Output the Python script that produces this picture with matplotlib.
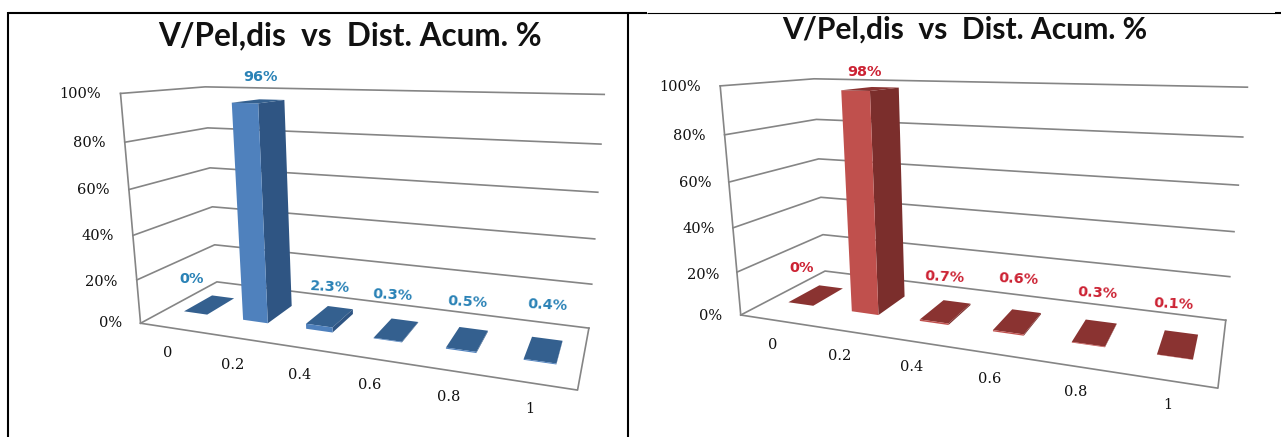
import numpy as np
import matplotlib
matplotlib.use("Agg")
import matplotlib.pyplot as plt
from matplotlib.lines import Line2D
from mpl_toolkits.mplot3d import Axes3D  # noqa: F401

FIG_W, FIG_H = 1281, 437
PANEL = 640

categories = ["0", "0.2", "0.4", "0.6", "0.8", "1"]
y_ticks = [0, 20, 40, 60, 80, 100]
title = "V/Pel,dis  vs  Dist. Acum. %"

blue_values = [0, 96, 2.3, 0.3, 0.5, 0.4]
blue_labels = ["0%", "96%", "2.3%", "0.3%", "0.5%", "0.4%"]
red_values = [0, 98, 0.7, 0.6, 0.3, 0.1]
red_labels = ["0%", "98%", "0.7%", "0.6%", "0.3%", "0.1%"]

# where the box corners land on the canvas, one entry per y tick
blue_left = [(140, 322), (137, 280), (133, 236), (129, 190), (125, 143), (120, 93)]
blue_back = [(217, 282), (214, 245), (212, 207), (211, 168), (208, 128), (205, 86)]
blue_right = [(588, 328), (592, 284), (595, 239), (599, 193), (602, 144), (602, 94)]
blue_front_right = (578, 390)
red_left = [(742, 315), (737, 272), (733, 228), (729, 182), (724, 135), (719, 86)]
red_back = [(824, 271), (822, 235), (821, 197), (819, 159), (817, 119), (815, 79)]
red_right = [(1226, 320), (1230, 277), (1234, 232), (1238, 185), (1243, 137), (1247, 87)]
red_front_right = (1218, 388)

# text anchors, canvas pixels
blue_tick_xy = [(168, 353), (233, 365), (300, 375), (370, 385), (449, 397), (530, 409)]
blue_label_xy = [(192, 279), (261, 77), (330, 287), (393, 295), (468, 302), (548, 305)]
blue_ylab_xy = [(122, 323), (117, 282), (114, 236), (109, 190), (105, 143), (101, 94)]
red_tick_xy = [(773, 345), (840, 356), (912, 367), (990, 379), (1076, 392), (1168, 405)]
red_label_xy = [(802, 268), (865, 72), (945, 277), (1019, 279), (1098, 293), (1174, 304)]
red_ylab_xy = [(722, 316), (719, 275), (715, 229), (711, 183), (706, 136), (701, 87)]
label_tilt = [0, 0, -3, -3, -3, -3]


def fit_camera(left, back, right, front_right):
    # solve the 3x4 camera for (category, depth, percent) -> canvas
    world, canvas = [], []
    for i, tick in enumerate(y_ticks):
        world += [(0, 0, tick), (0, 1, tick), (6, 1, tick)]
        canvas += [left[i], back[i], right[i]]
    world.append((6, 0, 0))
    canvas.append(front_right)

    rows, rhs = [], []
    for (x, y, z), (u, v) in zip(world, canvas):
        rows.append([x, y, z, 1, 0, 0, 0, 0, -u * x, -u * y, -u * z])
        rows.append([0, 0, 0, 0, x, y, z, 1, -v * x, -v * y, -v * z])
        rhs += [u, v]
    p = np.linalg.lstsq(np.array(rows, float), np.array(rhs, float), rcond=None)[0]

    # depth row grows with w, so mplot3d sorts far faces first
    return np.array([
        [p[0], p[1], p[2], p[3]],
        [p[4], p[5], p[6], p[7]],
        [p[8], p[9], p[10], 0.5],
        [p[8], p[9], p[10], 1.0],
    ])


def draw_chart(x0, values, labels, left, back, right, front_right, tick_xy, label_xy,
               ylab_xy, face, side, top, text_color, title_x, title_y, title_size):
    rect = [x0 / FIG_W, (FIG_H - PANEL) / FIG_H, PANEL / FIG_W, PANEL / FIG_H]
    ax = fig.add_axes(rect, projection="3d", computed_zorder=False)
    ax.patch.set_visible(False)
    ax.set_axis_off()
    # ortho switches off line clipping to the unit cube, the camera below is our own
    ax.set_proj_type("ortho")
    ax.viewLim.intervalx = (x0, x0 + PANEL)
    ax.viewLim.intervaly = (PANEL, 0)
    cam = fit_camera(left, back, right, front_right)
    ax.get_proj = lambda: cam

    grid = dict(color="#858585", lw=1.2, zorder=1)
    for tick in y_ticks:
        ax.plot([0, 0, 6], [0, 1, 1], [tick, tick, tick], **grid)
    ax.plot([0, 0], [0, 0], [0, 100], **grid)
    ax.plot([0, 6, 6], [0, 0, 1], [0, 0, 0], **grid)

    n = len(values)
    xs = np.arange(n) + 0.5 - 0.2
    clear = (0, 0, 0, 0)
    # bar3d face order: -z, +z, -y, +y, -x, +x
    colors = [clear, top, face, clear, clear, side] * n
    ax.bar3d(xs, [0.31] * n, [0] * n, 0.4, 0.38, values, color=colors, shade=False,
             edgecolor="none", zorder=3)

    for s, (px, py) in zip(categories, tick_xy):
        ax.text2D(px, py, s, ha="center", va="center", color="#111111",
                  family="DejaVu Serif", fontsize=10.5)
    for tick, (px, py) in zip(y_ticks, ylab_xy):
        ax.text2D(px, py, f"{tick}%", ha="right", va="center", color="#111111",
                  family="DejaVu Serif", fontsize=10.5)
    for s, (px, py), tilt in zip(labels, label_xy, label_tilt):
        ax.text2D(px, py, s, ha="center", va="center", color=text_color, rotation=tilt,
                  family="DejaVu Sans", weight="bold", fontsize=10.4)
    ax.text2D(title_x, title_y, title, ha="center", va="center", color="#111111",
              family="Lato", weight="bold", fontsize=title_size)


def rule(x1, y1, x2, y2, lw):
    fig.add_artist(Line2D([x1 / FIG_W, x2 / FIG_W], [1 - y1 / FIG_H, 1 - y2 / FIG_H],
                          color="black", lw=lw, solid_capstyle="butt"))


fig = plt.figure(figsize=(FIG_W / 100, FIG_H / 100), dpi=100, facecolor="white")

draw_chart(0, blue_values, blue_labels, blue_left, blue_back, blue_right, blue_front_right,
           blue_tick_xy, blue_label_xy, blue_ylab_xy, "#4f81bd", "#2f5583", "#34608f",
           "#2a82b6", 350, 36, 22.7)
draw_chart(PANEL, red_values, red_labels, red_left, red_back, red_right, red_front_right,
           red_tick_xy, red_label_xy, red_ylab_xy, "#c0504d", "#7b2e2c", "#8a3331",
           "#cc2233", 965, 30, 21.6)

# frame around the two panels
rule(8, 13, 647, 13, 1.5)
rule(647, 13, 1275, 13, 0.8)
rule(1275, 13, 1281, 13, 1.5)
rule(8, 12, 8, 437, 1.5)
rule(628, 12, 628, 437, 1.5)

fig.savefig("out.png", dpi=100)
